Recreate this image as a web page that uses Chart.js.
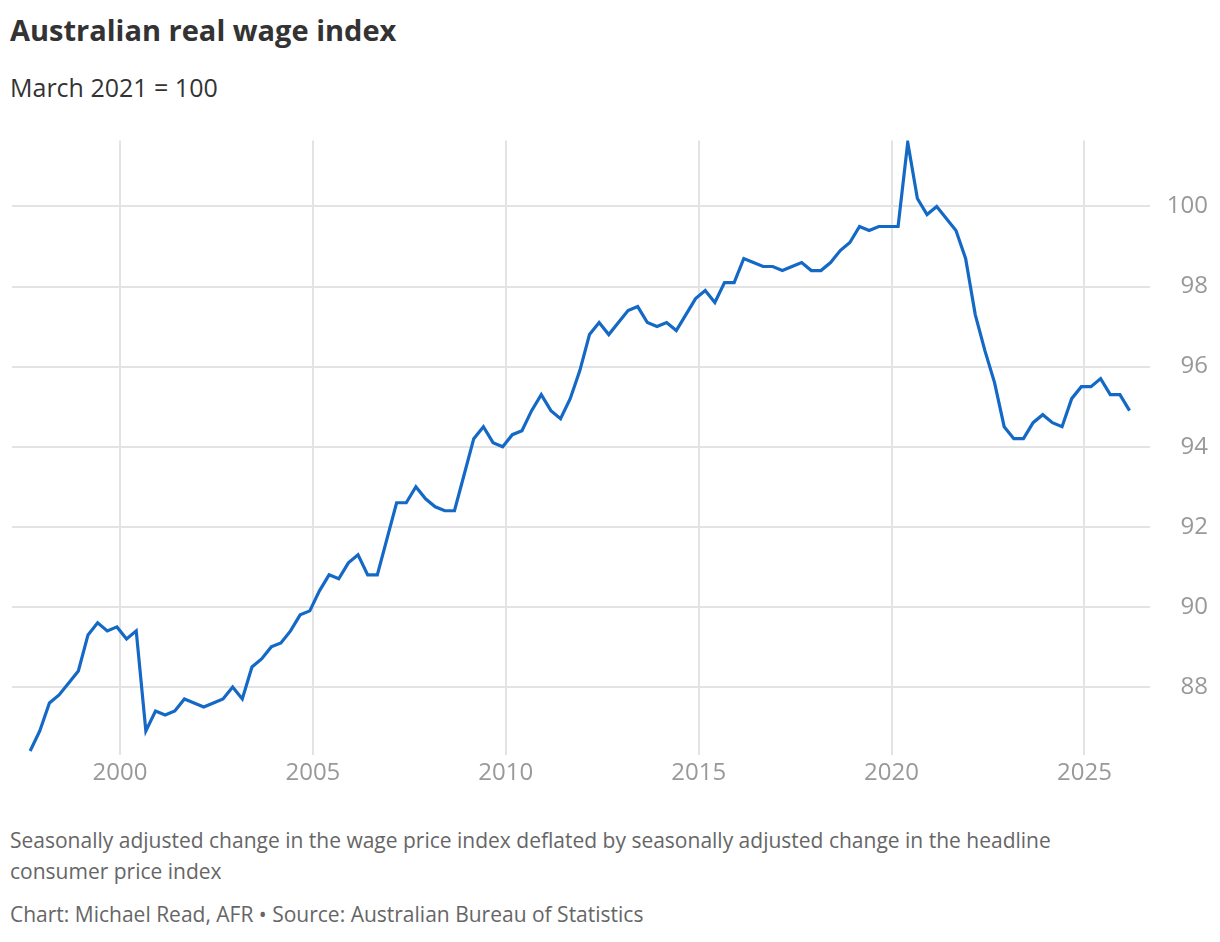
<!DOCTYPE html>
<html>
<head>
<meta charset="utf-8">
<script src="https://cdn.jsdelivr.net/npm/chart.js@4"></script>
<style>
  body { margin: 0; background: #fff; font-family: "Open Sans", "Noto Sans", sans-serif; color: #333; }
  h1 { position: absolute; left: 10px; top: 10px; margin: 0; font-size: 29px; font-weight: 700; color: #333; }
  .sub { position: absolute; left: 10px; top: 70px; font-size: 25px; color: #333; }
  .box { position: absolute; left: 0; top: 114px; width: 1220px; height: 676px; }
  .note { position: absolute; left: 10px; font-size: 21px; color: #666; line-height: 31px; }
</style>
</head>
<body>
<h1>Australian real wage index</h1>
<div class="sub">March 2021 = 100</div>
<div class="box"><canvas id="chart"></canvas></div>
<div class="note" style="top:825px">Seasonally adjusted change in the wage price index deflated by seasonally adjusted change in the headline<br>consumer price index</div>
<div class="note" style="top:899px">Chart: Michael Read, AFR • Source: Australian Bureau of Statistics</div>
<script>
// quarterly, starting Sep quarter 1997
const startYear = 1997.67;
const wageIndex = [
  86.4, 86.9, 87.6, 87.8, 88.1, 88.4, 89.3, 89.6, 89.4, 89.5,
  89.2, 89.4, 86.9, 87.4, 87.3, 87.4, 87.7, 87.6, 87.5, 87.6,
  87.7, 88.0, 87.7, 88.5, 88.7, 89.0, 89.1, 89.4, 89.8, 89.9,
  90.4, 90.8, 90.7, 91.1, 91.3, 90.8, 90.8, 91.7, 92.6, 92.6,
  93.0, 92.7, 92.5, 92.4, 92.4, 93.3, 94.2, 94.5, 94.1, 94.0,
  94.3, 94.4, 94.9, 95.3, 94.9, 94.7, 95.2, 95.9, 96.8, 97.1,
  96.8, 97.1, 97.4, 97.5, 97.1, 97.0, 97.1, 96.9, 97.3, 97.7,
  97.9, 97.6, 98.1, 98.1, 98.7, 98.6, 98.5, 98.5, 98.4, 98.5,
  98.6, 98.4, 98.4, 98.6, 98.9, 99.1, 99.5, 99.4, 99.5, 99.5,
  99.5, 101.6, 100.2, 99.8, 100.0, 99.7, 99.4, 98.7, 97.3, 96.4,
  95.6, 94.5, 94.2, 94.2, 94.6, 94.8, 94.6, 94.5, 95.2, 95.5,
  95.5, 95.7, 95.3, 95.3, 94.9
];
const xTicks = [2000, 2005, 2010, 2015, 2020, 2025];
const yTicks = [88, 90, 92, 94, 96, 98, 100];

const points = wageIndex.map((v, i) => ({ x: startYear + i * 0.25, y: v }));
const tickFont = { family: '"Open Sans", "Noto Sans", sans-serif', size: 24 };
const gridColor = '#e3e3e3';

new Chart(document.getElementById('chart'), {
  type: 'line',
  data: {
    datasets: [{
      data: points,
      borderColor: '#1469c6',
      borderWidth: 3.2,
      pointRadius: 0,
      tension: 0,
      fill: false
    }]
  },
  options: {
    responsive: true,
    maintainAspectRatio: false,
    animation: false,
    layout: { padding: { top: 10, left: 12, right: 12 } },
    plugins: { legend: { display: false }, tooltip: { enabled: false } },
    scales: {
      x: {
        type: 'linear',
        min: 1997.2,
        max: 2026.7,
        afterBuildTicks: axis => { axis.ticks = xTicks.map(v => ({ value: v })); },
        afterFit: axis => { axis.height = 35; },
        grid: { color: gridColor, lineWidth: 2, drawTicks: false },
        border: { display: false },
        ticks: { color: '#999', font: tickFont, padding: 4, maxRotation: 0, callback: v => String(v) }
      },
      y: {
        position: 'right',
        min: 86.3,
        max: 101.65,
        afterBuildTicks: axis => { axis.ticks = yTicks.map(v => ({ value: v })); },
        afterFit: axis => { axis.width = 58; },
        grid: { color: gridColor, lineWidth: 2, drawTicks: false },
        border: { display: false },
        ticks: { color: '#999', font: tickFont, padding: 12, crossAlign: 'far' }
      }
    }
  }
});
</script>
</body>
</html>
